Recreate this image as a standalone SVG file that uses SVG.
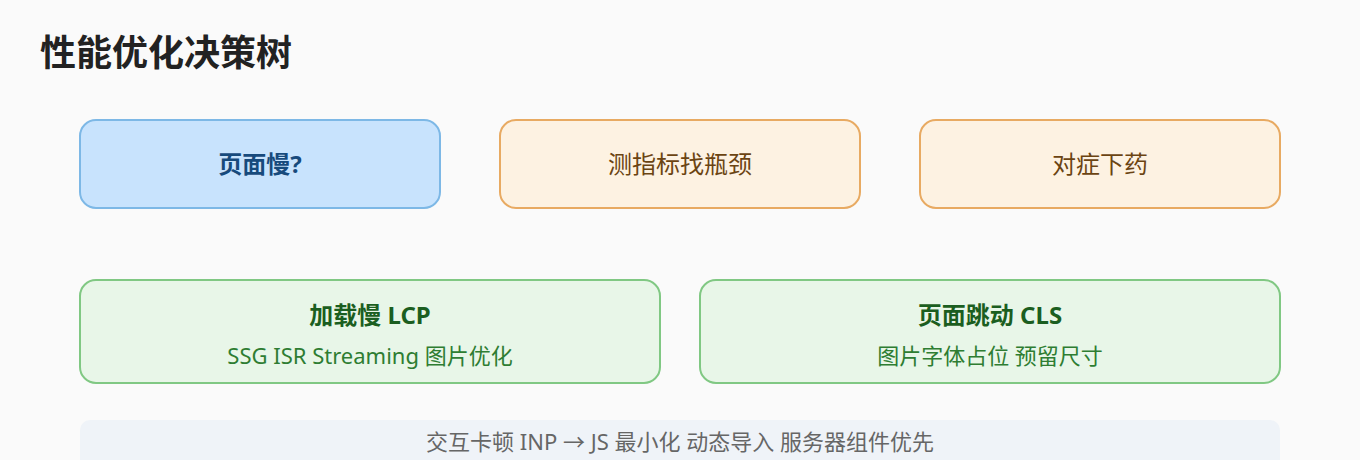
<svg xmlns="http://www.w3.org/2000/svg" width="1360" height="460" viewBox="0 0 1360 460">
<style>
text{font-family:"Noto Sans","Noto Sans CJK SC",sans-serif;text-anchor:middle}
.title{font-size:36px;font-weight:700;fill:#222;text-anchor:start}
.blue rect{fill:#c8e3fd;stroke:#7db8e6;stroke-width:2}
.orange rect{fill:#fdf2e2;stroke:#e8aa62;stroke-width:2}
.green rect{fill:#e8f6e8;stroke:#80c883;stroke-width:2}
.blue text{font-size:24px;font-weight:700;fill:#174a7c}
.orange text{font-size:24px;fill:#6b4412}
.green .h{font-size:24px;font-weight:700;fill:#1b5e20}
.green .s{font-size:22px;fill:#2e7d32}
.note rect{fill:#eff3f8}
.note text{font-size:22px;fill:#666}
</style>
<rect width="1360" height="460" fill="#fafafa"/>
<text class="title" x="40" y="66">性能优化决策树</text>
<g id="connectors"></g>
<g id="n1" class="blue"><rect x="80" y="120" width="360" height="88" rx="16"/><text x="260" y="173">页面慢?</text></g>
<g id="n2" class="orange"><rect x="500" y="120" width="360" height="88" rx="16"/><text x="680" y="173">测指标找瓶颈</text></g>
<g id="n3" class="orange"><rect x="920" y="120" width="360" height="88" rx="16"/><text x="1100" y="173">对症下药</text></g>
<g id="n4" class="green"><rect x="80" y="280" width="580" height="103" rx="16"/><text class="h" x="370" y="324">加载慢 LCP</text><text class="s" x="370" y="364">SSG ISR Streaming 图片优化</text></g>
<g id="n5" class="green"><rect x="700" y="280" width="580" height="103" rx="16"/><text class="h" x="990" y="324">页面跳动 CLS</text><text class="s" x="990" y="364">图片字体占位 预留尺寸</text></g>
<g id="n6" class="note"><rect x="80" y="420" width="1200" height="60" rx="10"/><text x="680" y="450">交互卡顿 INP → JS 最小化 动态导入 服务器组件优先</text></g>
</svg>
